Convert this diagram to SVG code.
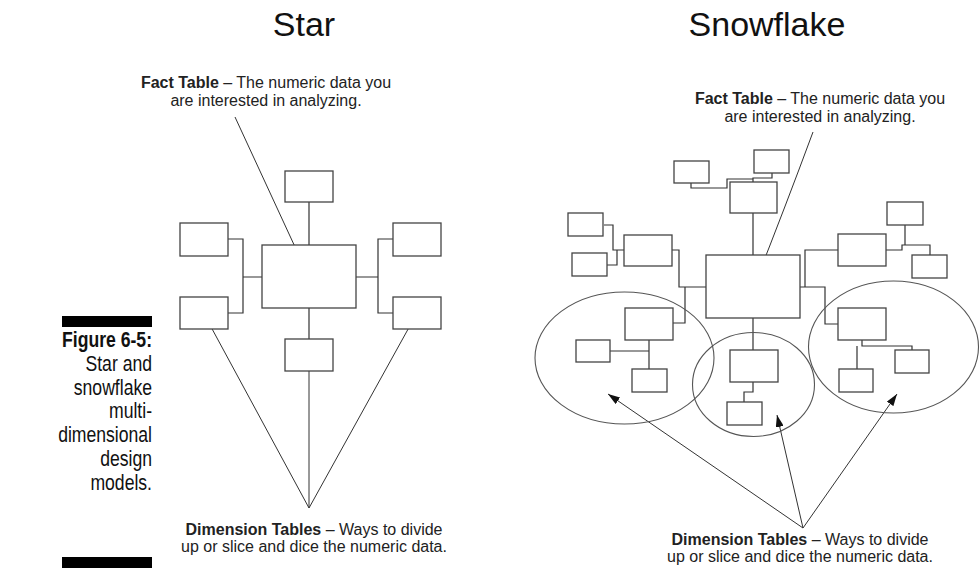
<svg xmlns="http://www.w3.org/2000/svg" width="980" height="568" viewBox="0 0 980 568">
<style>
  .box{fill:#fff;stroke:#444;stroke-width:1.3}
  .con{fill:none;stroke:#333;stroke-width:1.2}
  .ell{fill:none;stroke:#555;stroke-width:1.1}
  .arr{fill:none;stroke:#333;stroke-width:1}
  .title{font-family:"Liberation Sans",Arial,sans-serif;font-size:34px;fill:#111;text-anchor:middle}
  .lbl{font-family:"Liberation Sans",Arial,sans-serif;font-size:16px;fill:#222;text-anchor:middle}
  .cap{font-family:"Liberation Sans",Arial,sans-serif;font-size:22px;fill:#111;text-anchor:end}
</style>
<defs>
  <marker id="ah" viewBox="0 0 12 8" refX="12" refY="4" markerWidth="12" markerHeight="8" markerUnits="userSpaceOnUse" orient="auto">
    <path d="M0,0 L12,4 L0,8 Z" fill="#111"/>
  </marker>
</defs>
<rect width="980" height="568" fill="#fff"/>

<g id="caption">
  <rect x="62" y="316" width="90" height="11" fill="#000"/>
  <g transform="translate(152,0) scale(0.8,1)">
    <text class="cap" x="0" y="347" font-weight="bold">Figure 6-5:</text>
    <text class="cap" x="0" y="371">Star and</text>
    <text class="cap" x="0" y="395">snowflake</text>
    <text class="cap" x="0" y="418">multi-</text>
    <text class="cap" x="0" y="442">dimensional</text>
    <text class="cap" x="0" y="466">design</text>
    <text class="cap" x="0" y="490">models.</text>
  </g>
  <rect x="62" y="557" width="90" height="11" fill="#000"/>
</g>

<g id="titles">
  <text class="title" x="304" y="36">Star</text>
  <text class="title" x="767" y="36">Snowflake</text>
</g>

<g id="labels">
  <text class="lbl" x="266" y="88"><tspan font-weight="bold">Fact Table</tspan> – The numeric data you</text>
  <text class="lbl" x="266" y="106">are interested in analyzing.</text>
  <text class="lbl" x="820" y="104"><tspan font-weight="bold">Fact Table</tspan> – The numeric data you</text>
  <text class="lbl" x="820" y="122">are interested in analyzing.</text>
  <text class="lbl" x="314" y="535"><tspan font-weight="bold">Dimension Tables</tspan> – Ways to divide</text>
  <text class="lbl" x="314" y="552">up or slice and dice the numeric data.</text>
  <text class="lbl" x="800" y="545"><tspan font-weight="bold">Dimension Tables</tspan> – Ways to divide</text>
  <text class="lbl" x="800" y="562">up or slice and dice the numeric data.</text>
</g>

<g id="connectors">
  <!-- star -->
  <path class="con" d="M309,202 V245 M309,308 V339 M228,239 H243 V313 H228 M243,277 H262 M441,239 H378 V313 H441 M356,277 H378"/>
  <!-- snowflake -->
  <path class="con" d="M753,213 V255 M753,182 V178 H772 V173 M691,183 V188 H727 V179 H753"/>
  <path class="con" d="M604,225 H613 V250 H624 M607,265 H617 V250 M706,287 H679 V250 H672 M685,287 V323 H673"/>
  <path class="con" d="M649,340 V351 H610 M649,351 V369"/>
  <path class="con" d="M753,318 V350 M753,382 V392 H744 V402"/>
  <path class="con" d="M800,287 H805 V250 H838 M805,287 H825 V324 H838 M886,250 H902 V245 H930 V255 M905,225 V245"/>
  <path class="con" d="M862,340 V346 H912 V350 M857,346 V369"/>
  <!-- arrows -->
  <line class="arr" x1="235" y1="117" x2="308" y2="275" marker-end="url(#ah)"/>
  <line class="arr" x1="309" y1="508" x2="204" y2="314" marker-end="url(#ah)"/>
  <line class="arr" x1="309" y1="508" x2="309" y2="356" marker-end="url(#ah)"/>
  <line class="arr" x1="309" y1="508" x2="417" y2="313" marker-end="url(#ah)"/>
  <path class="arr" d="M813,132 Q786,205 754,286" marker-end="url(#ah)"/>
  <line class="arr" x1="803" y1="528" x2="608" y2="394" marker-end="url(#ah)"/>
  <line class="arr" x1="803" y1="528" x2="777" y2="415" marker-end="url(#ah)"/>
  <line class="arr" x1="803" y1="528" x2="897" y2="394" marker-end="url(#ah)"/>
</g>

<g id="star-fact"><rect class="box" x="262" y="245" width="94" height="63"/></g>
<g id="star-top"><rect class="box" x="285" y="171" width="48" height="31"/></g>
<g id="star-left-top"><rect class="box" x="180" y="223" width="48" height="33"/></g>
<g id="star-left-bottom"><rect class="box" x="180" y="297" width="48" height="32"/></g>
<g id="star-right-top"><rect class="box" x="393" y="223" width="48" height="33"/></g>
<g id="star-right-bottom"><rect class="box" x="393" y="297" width="48" height="32"/></g>
<g id="star-bottom"><rect class="box" x="285" y="339" width="48" height="32"/></g>

<g id="snow-fact"><rect class="box" x="706" y="255" width="94" height="63"/></g>
<g id="snow-top-mid"><rect class="box" x="730" y="182" width="47" height="31"/></g>
<g id="snow-top-left"><rect class="box" x="674" y="161" width="35" height="22"/></g>
<g id="snow-top-right"><rect class="box" x="754" y="150" width="35" height="23"/></g>
<g id="snow-left-mid"><rect class="box" x="624" y="235" width="48" height="31"/></g>
<g id="snow-left-1"><rect class="box" x="568" y="213" width="35" height="23"/></g>
<g id="snow-left-2"><rect class="box" x="572" y="253" width="35" height="23"/></g>
<g id="snow-right-mid"><rect class="box" x="838" y="234" width="48" height="32"/></g>
<g id="snow-right-1"><rect class="box" x="887" y="202" width="36" height="23"/></g>
<g id="snow-right-2"><rect class="box" x="912" y="255" width="35" height="23"/></g>

<g id="group-left">
  <ellipse class="ell" cx="624.5" cy="358" rx="89.5" ry="66"/>
  <rect class="box" x="625" y="308" width="48" height="32"/>
  <rect class="box" x="576" y="340" width="34" height="22"/>
  <rect class="box" x="632" y="369" width="35" height="23"/>
</g>
<g id="group-mid">
  <ellipse class="ell" cx="753.5" cy="384.5" rx="61" ry="52"/>
  <rect class="box" x="730" y="350" width="48" height="32"/>
  <rect class="box" x="727" y="402" width="35" height="23"/>
</g>
<g id="group-right">
  <ellipse class="ell" cx="893.5" cy="347" rx="85" ry="66"/>
  <rect class="box" x="838" y="308" width="48" height="32"/>
  <rect class="box" x="895" y="350" width="34" height="23"/>
  <rect class="box" x="839" y="369" width="34" height="23"/>
</g>
</svg>
